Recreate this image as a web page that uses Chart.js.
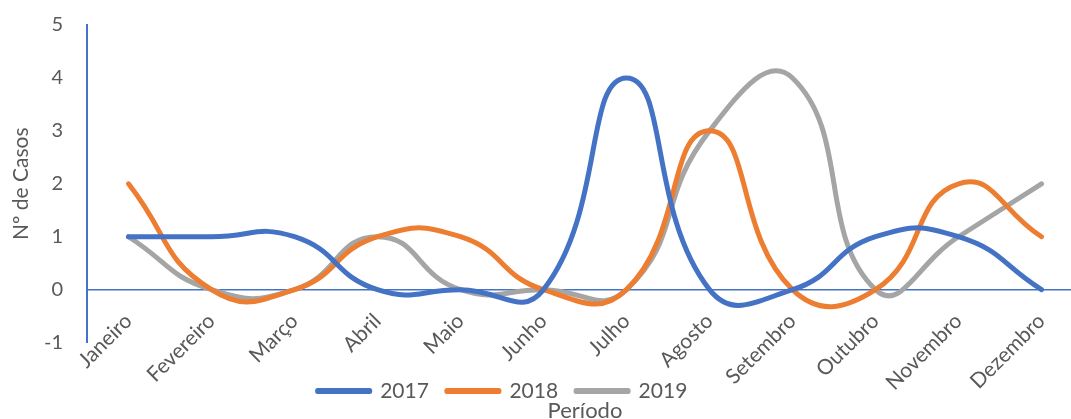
<!DOCTYPE html>
<html>
<head>
<meta charset="utf-8">
<script src="https://cdn.jsdelivr.net/npm/chart.js@4"></script>
<style>
  html, body { margin: 0; padding: 0; background: #fff; overflow: hidden; }
  #wrap { width: 1083px; height: 424px; }
</style>
</head>
<body>
<div id="wrap"><canvas id="casosChart"></canvas></div>
<script>
const meses = ['Janeiro', 'Fevereiro', 'Março', 'Abril', 'Maio', 'Junho', 'Julho', 'Agosto', 'Setembro', 'Outubro', 'Novembro', 'Dezembro'];
const casos2017 = [1, 1, 1, 0, 0, 0, 4, 0, 0, 1, 1, 0];
const casos2018 = [2, 0, 0, 1, 1, 0, 0, 3, 0, 0, 2, 1];
const casos2019 = [1, 0, 0, 1, 0, 0, 0, 3, 4, 0, 1, 2];
const anos = ['2017', '2018', '2019'];
const cores = ['#4472C4', '#ED7D31', '#A5A5A5'];

const azulEixo = '#4472C4';
const cinzaTexto = '#595959';
const fonte = 'Lato, "DejaVu Sans", sans-serif';

// move the legend a bit to the left of the canvas centre
const legendShift = {
  id: 'legendShift',
  afterLayout: (chart) => {
    chart.legend.left -= 39;
    chart.legend.right -= 39;
  },
};

const serie = (i, data) => ({
  label: anos[i],
  data: data,
  borderColor: cores[i],
  backgroundColor: cores[i],
  borderWidth: 5,
  borderCapStyle: 'round',
  borderJoinStyle: 'round',
  pointRadius: 0,
  tension: 0.5,
});

const ctx = document.getElementById('casosChart').getContext('2d');
new Chart(ctx, {
  type: 'line',
  data: {
    labels: meses,
    datasets: [serie(0, casos2017), serie(1, casos2018), serie(2, casos2019)],
  },
  options: {
    responsive: true,
    maintainAspectRatio: false,
    animation: false,
    layout: { padding: { top: 25, left: 0, right: 0, bottom: 0 } },
    scales: {
      x: {
        // category axis crosses the value axis at zero
        position: { y: 0 },
        offset: true,
        grid: { display: false },
        border: { display: true, color: azulEixo, width: 1.5 },
        ticks: {
          color: cinzaTexto,
          font: { family: fonte, size: 21 },
          minRotation: 45,
          maxRotation: 45,
          autoSkip: false,
          padding: 11,
        },
        afterFit: (scale) => { scale.height = 0; },
      },
      y: {
        min: -1,
        max: 5,
        ticks: {
          stepSize: 1,
          color: cinzaTexto,
          font: { family: fonte, size: 20 },
          padding: 16,
        },
        grid: { display: false },
        border: { display: true, color: azulEixo, width: 2 },
        title: {
          display: true,
          text: 'Nº de Casos',
          color: cinzaTexto,
          font: { family: fonte, size: 21 },
          padding: { top: 9, bottom: 0 },
        },
        afterFit: (scale) => {
          scale.width = 87;
          scale.paddingTop = 0;
          scale.paddingBottom = 0;
        },
      },
    },
    plugins: {
      legend: {
        position: 'bottom',
        // empty title keeps the legend clear of the month labels
        title: { display: true, text: '', padding: 0, font: { size: 10, lineHeight: '20px' } },
        labels: {
          color: cinzaTexto,
          font: { family: fonte, size: 21 },
          boxWidth: 52,
          boxHeight: 1,
          padding: 18,
        },
      },
      title: {
        display: true,
        position: 'bottom',
        fullSize: false,
        text: 'Período',
        color: cinzaTexto,
        font: { family: fonte, size: 22, weight: 'normal' },
        padding: { top: -14, bottom: 0 },
      },
      tooltip: { enabled: false },
    },
  },
  plugins: [legendShift],
});
</script>
</body>
</html>
